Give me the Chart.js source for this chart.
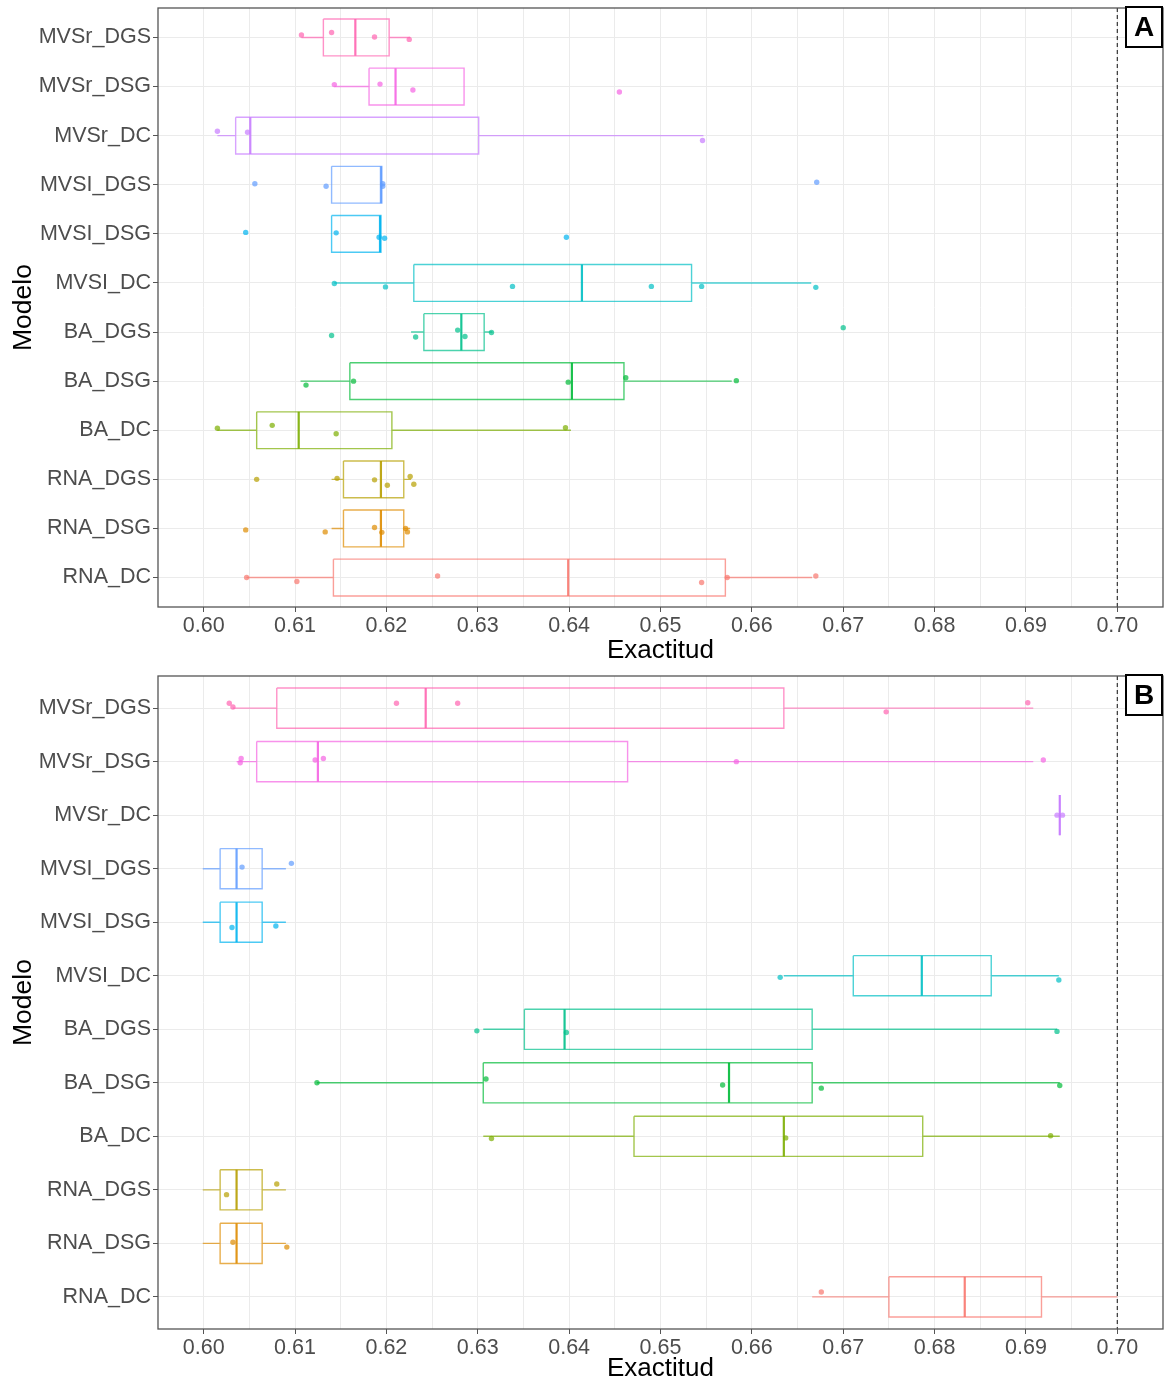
<!DOCTYPE html>
<html>
<head>
<meta charset="utf-8">
<script src="https://cdn.jsdelivr.net/npm/chart.js@4.4.1/dist/chart.umd.min.js"></script>
<style>
  body { margin: 0; background: #fff; }
  .wrap { position: absolute; left: 0; width: 1167px; }
  #wrapA { top: 0; height: 664px; }
  #wrapB { top: 664px; height: 718px; }
</style>
</head>
<body>
<div class="wrap" id="wrapA"><canvas id="chartA"></canvas></div>
<div class="wrap" id="wrapB"><canvas id="chartB"></canvas></div>
<script>
// ==============================
// DATA
// ==============================
const models = ["MVSr_DGS", "MVSr_DSG", "MVSr_DC", "MVSI_DGS", "MVSI_DSG", "MVSI_DC",
                "BA_DGS", "BA_DSG", "BA_DC", "RNA_DGS", "RNA_DSG", "RNA_DC"];
const colors = ["#FF64B0", "#F564E3", "#C77CFF", "#619CFF", "#00B4F0", "#00BFC4",
                "#00C08B", "#00BA38", "#7CAE00", "#B79F00", "#DE8C00", "#F8766D"];
const xTicks = [0.60, 0.61, 0.62, 0.63, 0.64, 0.65, 0.66, 0.67, 0.68, 0.69, 0.70];
const refLine = 0.70;

// -- panel A --
const loA  = [0.6107, 0.6143, 0.6015, 0.6140, 0.6140, 0.6143, 0.6227, 0.6106, 0.6015, 0.6140, 0.6140, 0.6047];
const q1A  = [0.6131, 0.6181, 0.6035, 0.6140, 0.6140, 0.6230, 0.6241, 0.6160, 0.6058, 0.6153, 0.6153, 0.6142];
const medA = [0.6166, 0.6210, 0.6051, 0.6194, 0.6193, 0.6414, 0.6282, 0.6403, 0.6104, 0.6194, 0.6194, 0.6399];
const q3A  = [0.6203, 0.6285, 0.6301, 0.6195, 0.6194, 0.6534, 0.6307, 0.6460, 0.6206, 0.6219, 0.6219, 0.6571];
const hiA  = [0.6226, 0.6285, 0.6547, 0.6196, 0.6194, 0.6665, 0.6316, 0.6578, 0.6402, 0.6227, 0.6226, 0.6666];
const ptsA = [
  [0.6107, 0.6140, 0.6187, 0.6225],
  [0.6143, 0.6193, 0.6229, 0.6455],
  [0.6015, 0.6048, 0.6546],
  [0.6056, 0.6134, 0.6196, 0.6196, 0.6671],
  [0.6046, 0.6145, 0.6192, 0.6198, 0.6397],
  [0.6143, 0.6199, 0.6338, 0.6490, 0.6545, 0.6670],
  [0.6140, 0.6232, 0.6278, 0.6286, 0.6315, 0.6700],
  [0.6112, 0.6164, 0.6399, 0.6462, 0.6583],
  [0.6015, 0.6075, 0.6145, 0.6396],
  [0.6058, 0.6146, 0.6187, 0.6201, 0.6226, 0.6230],
  [0.6046, 0.6133, 0.6187, 0.6195, 0.6221, 0.6223],
  [0.6047, 0.6102, 0.6256, 0.6545, 0.6573, 0.6670]
];
const jitA = [
  [-0.05, -0.10, -0.01, 0.04],
  [-0.04, -0.05, 0.07, 0.11],
  [-0.09, -0.07, 0.10],
  [-0.02, 0.03, -0.02, 0.03, -0.05],
  [-0.03, -0.02, 0.07, 0.09, 0.07],
  [0.01, 0.08, 0.07, 0.07, 0.07, 0.09],
  [0.07, 0.10, -0.04, 0.09, 0.01, -0.09],
  [0.08, 0.00, 0.02, -0.07, -0.01],
  [-0.04, -0.10, 0.07, -0.05],
  [0.00, -0.02, 0.01, 0.12, -0.06, 0.10],
  [0.03, 0.07, -0.02, 0.08, 0.00, 0.07],
  [0.00, 0.08, -0.03, 0.10, 0.00, -0.03]
];

// -- panel B --
const loB  = [0.6032, 0.6036, 0.6937, 0.5999, 0.5999, 0.6635, 0.6306, 0.6124, 0.6306, 0.5999, 0.5999, 0.6666];
const q1B  = [0.6080, 0.6058, 0.6937, 0.6018, 0.6018, 0.6711, 0.6351, 0.6306, 0.6471, 0.6018, 0.6018, 0.6750];
const medB = [0.6243, 0.6125, 0.6937, 0.6036, 0.6036, 0.6786, 0.6395, 0.6575, 0.6635, 0.6036, 0.6036, 0.6833];
const q3B  = [0.6635, 0.6464, 0.6937, 0.6064, 0.6064, 0.6862, 0.6666, 0.6666, 0.6787, 0.6064, 0.6064, 0.6917];
const hiB  = [0.6908, 0.6908, 0.6937, 0.6090, 0.6090, 0.6936, 0.6934, 0.6937, 0.6937, 0.6090, 0.6090, 0.7000];
const ptsB = [
  [0.6028, 0.6032, 0.6211, 0.6278, 0.6747, 0.6902],
  [0.6041, 0.6040, 0.6122, 0.6131, 0.6583, 0.6919],
  [0.6934, 0.6940],
  [0.6042, 0.6096],
  [0.6031, 0.6079],
  [0.6631, 0.6936],
  [0.6299, 0.6397, 0.6934],
  [0.6124, 0.6309, 0.6568, 0.6676, 0.6937],
  [0.6315, 0.6637, 0.6927],
  [0.6025, 0.6080],
  [0.6032, 0.6091],
  [0.6676]
];
const jitB = [
  [-0.09, -0.02, -0.09, -0.09, 0.07, -0.10],
  [-0.06, 0.02, -0.03, -0.06, 0.00, -0.03],
  [0.00, 0.00],
  [-0.03, -0.10],
  [0.10, 0.07],
  [0.03, 0.08],
  [0.03, 0.06, 0.04],
  [0.00, -0.07, 0.04, 0.10, 0.05],
  [0.04, 0.03, -0.01],
  [0.09, -0.11],
  [-0.02, 0.07],
  [-0.09]
];

// ==============================
// HELPERS
// ==============================
const BOX_HALF = 0.375;
const FONT = "'Liberation Sans', Arial, sans-serif";
Chart.defaults.font.family = FONT;

function alpha(hex, a){
    const n = parseInt(hex.slice(1), 16);
    return `rgba(${n >> 16},${(n >> 8) & 255},${n & 255},${a})`;
}

function noPad(s){
    s.paddingTop = 0; s.paddingBottom = 0;
    s.paddingLeft = 0; s.paddingRight = 0;
}

function buildDatasets(lo, q1, med, q3, hi, pts, jit){
    const sets = [];
    models.forEach((m, i) => {
        const c = colors[i];
        const gap = {x: null, y: null};
        // box outline + whiskers
        sets.push({
            data: [
                {x: lo[i], y: i}, {x: q1[i], y: i}, gap,
                {x: q1[i], y: i - BOX_HALF}, {x: q3[i], y: i - BOX_HALF},
                {x: q3[i], y: i + BOX_HALF}, {x: q1[i], y: i + BOX_HALF},
                {x: q1[i], y: i - BOX_HALF}, gap,
                {x: q3[i], y: i}, {x: hi[i], y: i}
            ],
            showLine: true, spanGaps: false,
            borderColor: alpha(c, 0.7), borderWidth: 1.4,
            pointRadius: 0, fill: false
        });
        // median
        sets.push({
            data: [{x: med[i], y: i - BOX_HALF}, {x: med[i], y: i + BOX_HALF}],
            showLine: true,
            borderColor: alpha(c, 0.9), borderWidth: 2.2,
            pointRadius: 0
        });
        // jittered points
        sets.push({
            data: pts[i].map((v, k) => ({x: v, y: i + jit[i][k]})),
            showLine: false,
            pointRadius: 2.7, pointBorderWidth: 0,
            backgroundColor: alpha(c, 0.7), borderColor: alpha(c, 0.7)
        });
    });
    // reference line
    sets.push({
        data: [{x: refLine, y: -0.6}, {x: refLine, y: models.length - 0.4}],
        showLine: true,
        borderColor: "#333", borderWidth: 1.2, borderDash: [4, 3],
        pointRadius: 0
    });
    return sets;
}

// -- panel frame + letter tag --
const framePlugin = {
    id: "frame",
    afterDraw(chart, args, opts){
        const {ctx, chartArea: a} = chart;
        ctx.save();
        ctx.strokeStyle = "#555";
        ctx.lineWidth = 1.3;
        ctx.strokeRect(a.left, a.top, a.right - a.left, a.bottom - a.top);
        // tag
        const w = 36, h = 40;
        const x0 = a.right - w - 1, y0 = a.top - 1;
        ctx.fillStyle = "#fff";
        ctx.fillRect(x0, y0, w, h);
        ctx.strokeStyle = "#000";
        ctx.lineWidth = 2;
        ctx.strokeRect(x0, y0, w, h);
        ctx.fillStyle = "#000";
        ctx.font = "bold 28px " + FONT;
        ctx.textAlign = "center";
        ctx.textBaseline = "middle";
        ctx.fillText(opts.tag, x0 + w / 2, y0 + h / 2 + 1);
        ctx.restore();
    }
};

function makeChart(id, datasets, tag, padTop, xHeight){
    const ctx = document.getElementById(id).getContext("2d");
    return new Chart(ctx, {
        type: "scatter",
        data: { datasets },
        plugins: [framePlugin],
        options: {
            responsive: true,
            maintainAspectRatio: false,
            animation: false,
            layout: { padding: { left: 0, right: -2.5, top: padTop, bottom: 0 } },
            plugins: {
                legend: { display: false },
                tooltip: { enabled: false },
                frame: { tag }
            },
            scales: {
                x: {
                    type: "linear",
                    min: 0.595, max: 0.705,
                    afterBuildTicks: s => {
                        const t = [];
                        xTicks.forEach((v, i) => {
                            t.push({ value: v });
                            if(i < xTicks.length - 1) t.push({ value: (v + xTicks[i + 1]) / 2, minor: true });
                        });
                        s.ticks = t;
                    },
                    afterFit: s => { s.height = xHeight; noPad(s); },
                    ticks: {
                        autoSkip: false, maxRotation: 0, padding: 1,
                        color: "#4d4d4d", font: { size: 21.5 },
                        callback: (v, i, t) => t[i].minor ? "" : v.toFixed(2)
                    },
                    grid: {
                        color: "#ebebeb", lineWidth: 1,
                        tickLength: 5,
                        tickColor: c => (c.tick && c.tick.minor) ? "rgba(0,0,0,0)" : "#555"
                    },
                    border: { display: false },
                    title: {
                        display: true, text: "Exactitud", color: "#000",
                        font: { size: 26, lineHeight: 1.05 }, padding: { top: 0, bottom: 0 }
                    }
                },
                y: {
                    type: "linear",
                    reverse: true,
                    min: -0.6, max: models.length - 0.4,
                    afterBuildTicks: s => { s.ticks = models.map((m, i) => ({ value: i })); },
                    afterFit: s => { s.width = 158; noPad(s); },
                    ticks: {
                        autoSkip: false, padding: 2,
                        color: "#4d4d4d", font: { size: 21.5 },
                        callback: v => models[v]
                    },
                    grid: { color: "#ebebeb", lineWidth: 1, tickLength: 5, tickColor: "#555" },
                    border: { display: false },
                    title: {
                        display: true, text: "Modelo", color: "#000",
                        font: { size: 26.5 }, padding: { top: 8, bottom: 0 }
                    }
                }
            }
        }
    });
}

// ==============================
// INIT
// ==============================
makeChart("chartA", buildDatasets(loA, q1A, medA, q3A, hiA, ptsA, jitA), "A", 8, 57);
makeChart("chartB", buildDatasets(loB, q1B, medB, q3B, hiB, ptsB, jitB), "B", 12, 53);
</script>
</body>
</html>
